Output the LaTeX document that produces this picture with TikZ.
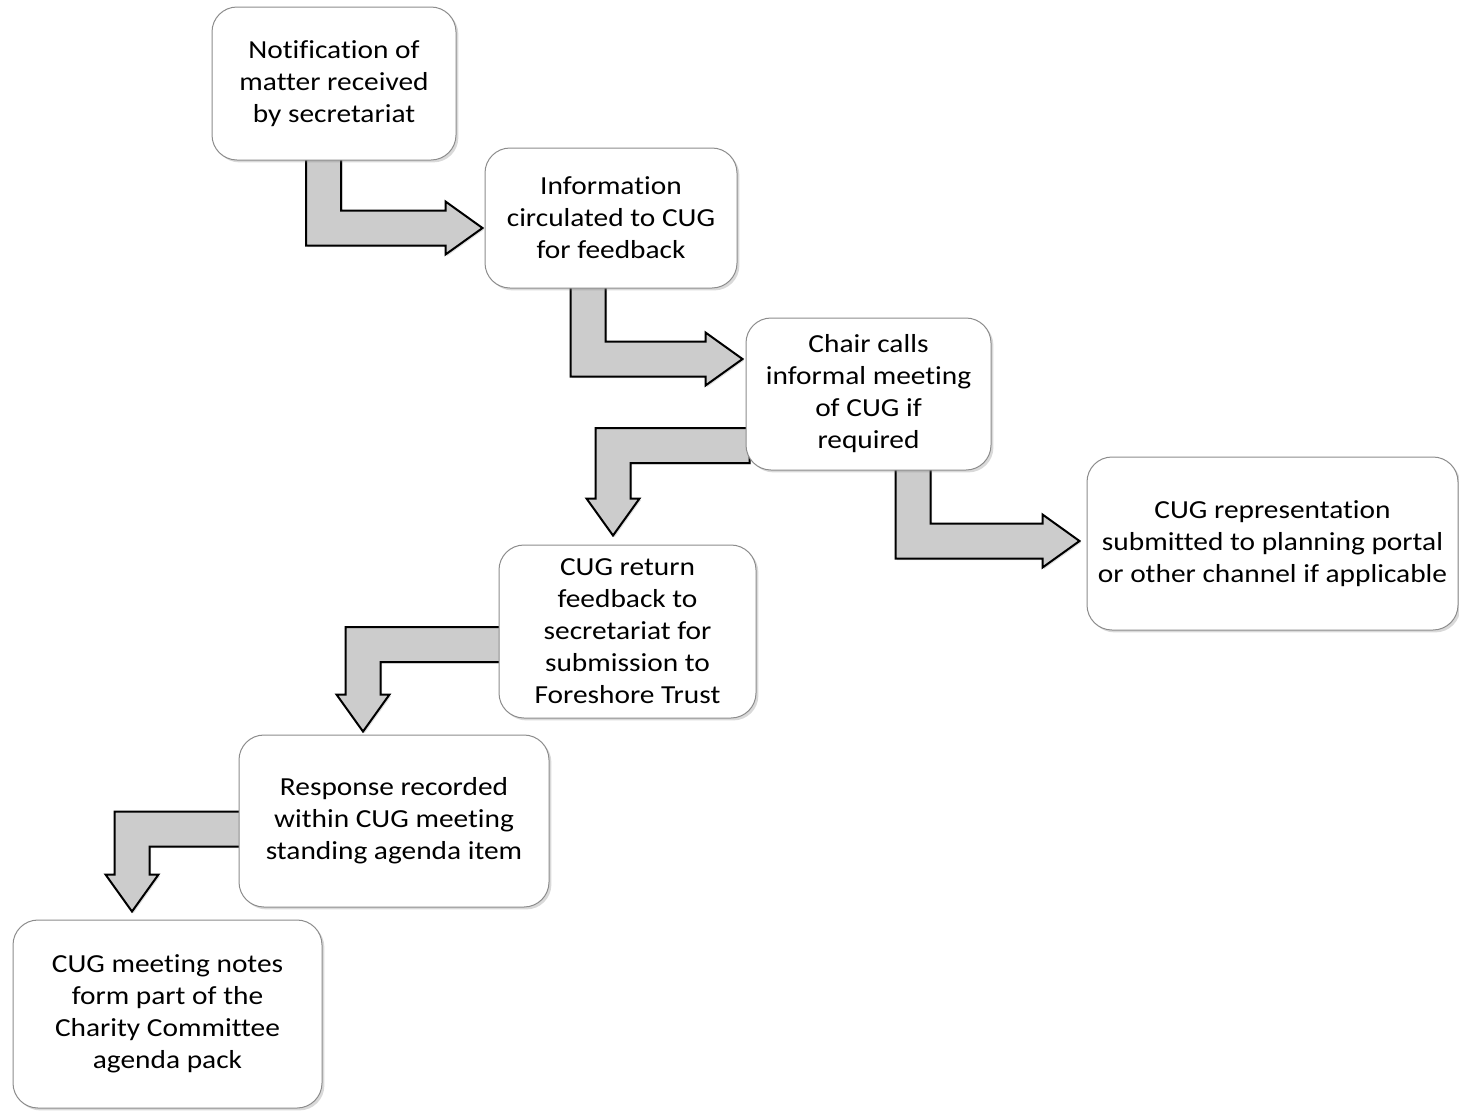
\documentclass[tikz,border=0pt]{standalone}
\usepackage{fontspec}
\setmainfont{Carlito}[FakeStretch=1.13, Ligatures=NoCommon]
\usetikzlibrary{calc}
\usetikzlibrary{shadows}
\usetikzlibrary{backgrounds}

\definecolor{arrowgray}{HTML}{CCCCCC}
\definecolor{boxline}{HTML}{8C8C8C}

% bent arrow: down from a box, then right into the next one
\newcommand{\elbowright}[2]{%
  \path[elbow] let \p1=(#1), \p2=(#2) in
    (\x1-8.75pt,\y1) |- (\x2-18.5pt,\y2-8.75pt) -- ++(0,-4.5pt) -- (\x2,\y2)
    -- (\x2-18.5pt,\y2+13.25pt) -- ++(0,-4.5pt) -| (\x1+8.75pt,\y1) -- cycle;}
% bent arrow: left out of a box, then down into the next one
\newcommand{\elbowdown}[2]{%
  \path[elbow] let \p1=(#1), \p2=(#2) in
    (\x1,\y1+8.75pt) -| (\x2-8.75pt,\y2+18.5pt) -- ++(-4.5pt,0) -- (\x2,\y2)
    -- (\x2+13.25pt,\y2+18.5pt) -- ++(-4.5pt,0) |- (\x1,\y1-8.75pt) -- cycle;}

\begin{document}
\begin{tikzpicture}[x=0.5pt, y=-0.5pt,
  box/.style={draw=boxline, line width=0.5pt, fill=white, rounded corners=12.5pt,
    align=center, inner sep=0pt, font=\fontsize{13pt}{16pt}\selectfont,
    drop shadow={shadow xshift=1.2pt, shadow yshift=-1.2pt, opacity=0.3}},
  elbow/.style={draw=black, line width=1pt, fill=arrowgray, line join=miter,
    drop shadow={shadow xshift=0.8pt, shadow yshift=-0.8pt, opacity=0.25}}]
  \useasboundingbox (0,0) rectangle (1459,1110);

  \node[box, minimum width=122pt, minimum height=76.5pt] (b1) at (334,83.5)
    {Notification of\\matter received\\by secretariat};
  \node[box, minimum width=126pt, minimum height=70pt] (b2) at (611,218)
    {Information\\circulated to CUG\\for feedback};
  \node[box, minimum width=122.5pt, minimum height=76pt] (b3) at (868.5,394)
    {Chair calls\\informal meeting\\of CUG if\\required};
  \node[box, minimum width=185.5pt, minimum height=86.5pt] (b4) at (1272.5,543.5)
    {CUG representation\\submitted to planning portal\\or other channel if applicable};
  \node[box, minimum width=128.5pt, minimum height=86.5pt] (b5) at (627.5,631.5)
    {CUG return\\feedback to\\secretariat for\\submission to\\Foreshore Trust};
  \node[box, minimum width=155pt, minimum height=86pt] (b6) at (394,821)
    {Response recorded\\within CUG meeting\\standing agenda item};
  \node[box, minimum width=154.5pt, minimum height=94pt] (b7) at (167.5,1014)
    {CUG meeting notes\\form part of the\\Charity Committee\\agenda pack};

  \begin{scope}[on background layer]
    \elbowright{$(b1.south)+(-10.5,-4)$}{$(b2.west)+(-2,10)$}
    \elbowright{$(b2.south)+(-23,-4)$}{$(b3.west)+(-3,-35)$}
    \elbowdown{$(b3.west)+(4,51.5)$}{$(b5.north)+(-14.5,-9)$}
    \elbowright{$(b3.south)+(44.5,-4)$}{$(b4.west)+(-7,-2.5)$}
    \elbowdown{$(b5.west)+(4,13)$}{$(b6.north)+(-31,-3)$}
    \elbowdown{$(b6.west)+(4,8)$}{$(b7.north)+(-35.5,-8)$}
  \end{scope}
\end{tikzpicture}
\end{document}
